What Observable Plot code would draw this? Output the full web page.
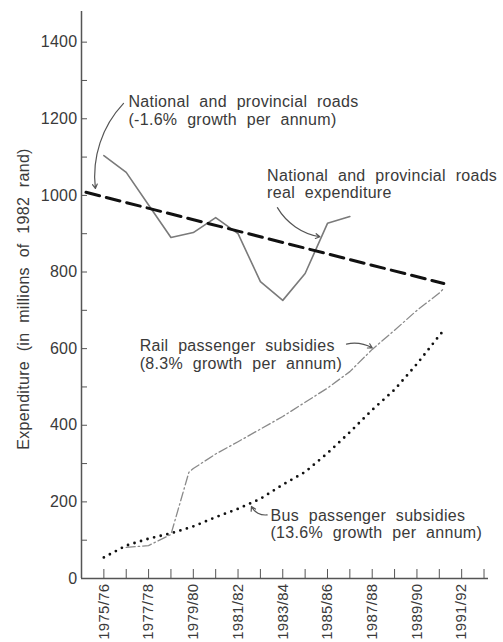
<!DOCTYPE html>
<html><head><meta charset="utf-8">
<script src="https://cdn.jsdelivr.net/npm/d3@7"></script>
<script src="https://cdn.jsdelivr.net/npm/@observablehq/plot@0.6"></script>
<style>
body{margin:0;background:#fff}
#chart svg{font-family:"Liberation Sans",Arial,sans-serif;}
</style>
</head><body><div id="chart"></div>
<script>
// Financial years: 1975 means 1975/76
const roadYears  = [1975,1976,1977,1978,1979,1980,1981,1982,1983,1984,1985,1986];
const roadValues = [1104,1060,975,890,903,942,900,775,726,796,927,945];

const trendYears  = [1974.2, 1990.2];
const trendValues = [1008, 770];

const railYears  = [1976,1977,1978,1978.8,1979,1980,1981,1982,1983,1984,1985,1986,1987,1988,1989,1990,1990.2];
const railValues = [81,86,115,277,287,325,357,390,423,460,497,540,598,648,700,745,757];

const busYears  = [1975,1976,1977,1978,1979,1980,1981,1982,1983,1984,1985,1986,1987,1988,1989,1990,1990.2];
const busValues = [55,86,104,118,136,160,182,208,245,278,327,382,440,493,560,634,648];

const yLabelTicks = [0,200,400,600,800,1000,1200,1400];
const yAllTicks = [0,100,200,300,400,500,600,700,800,900,1000,1100,1200,1300,1400];
const xLabelYears = [1975,1977,1979,1981,1983,1985,1987,1989,1991];
const xAllYears = [1975,1976,1977,1978,1979,1980,1981,1982,1983,1984,1985,1986,1987,1988,1989,1990,1991,1992];

const yTitle = "Expenditure (in millions of 1982 rand)";
const notes = [
  {x: 1976.1, y: 1262, text: "National and provincial roads\n(-1.6% growth per annum)"},
  {x: 1982.3, y: 1070, text: "National and provincial roads\nreal expenditure"},
  {x: 1976.6, y: 625,  text: "Rail passenger subsidies\n(8.3% growth per annum)"},
  {x: 1982.45, y: 183, text: "Bus passenger subsidies\n(13.6% growth per annum)"}
];
const arrowRoadsTrend = [{x1: 1975.88, y1: 1240, x2: 1974.62, y2: 1018}];
const arrowRoadsReal  = [{x1: 1982.76, y1: 968,  x2: 1984.66, y2: 892}];
const arrowRail       = [{x1: 1985.85, y1: 612,  x2: 1987.0,  y2: 602}];
const arrowBus        = [{x1: 1982.3,  y1: 166,  x2: 1981.6,  y2: 188}];

const fmt = y => `${y}/${String((y + 1) % 100).padStart(2, "0")}`;
const road = roadYears.map((x, i) => ({x, y: roadValues[i]}));
const trend = trendYears.map((x, i) => ({x, y: trendValues[i]}));
const rail = railYears.map((x, i) => ({x, y: railValues[i]}));
const bus = busYears.map((x, i) => ({x, y: busValues[i]}));

const ink = "#3a3a3a";
const arrowStyle = {x1: "x1", y1: "y1", x2: "x2", y2: "y2", stroke: "#555", strokeWidth: 1.2, headLength: 6};
const chart = Plot.plot({
  width: 503,
  height: 642,
  marginLeft: 81,
  marginRight: 15,
  marginTop: 11,
  marginBottom: 64,
  style: {fontFamily: "'Liberation Sans', Arial, sans-serif", color: ink, background: "#fff"},
  x: {domain: [1974, 1992.2], axis: null},
  y: {domain: [0, 1480], axis: null},
  marks: [
    Plot.axisY({ticks: yAllTicks, tickSize: 6, dx: 6, text: null, stroke: "#555"}),
    Plot.axisY({ticks: yLabelTicks, tickFormat: d => String(d), tickSize: 0, tickPadding: 4, fontSize: 16, fill: ink}),
    Plot.axisX({ticks: xAllYears, tickSize: 9, dy: -9, text: null, stroke: "#555"}),
    Plot.axisX({ticks: xLabelYears, tickFormat: fmt, tickRotate: -90, tickSize: 0, tickPadding: 5, fontSize: 15, fill: ink}),
    Plot.ruleY([0], {stroke: "#555", strokeWidth: 1.5}),
    Plot.ruleX([1974], {stroke: "#555", strokeWidth: 1.5}),
    Plot.text([yTitle], {frameAnchor: "left", textAnchor: "middle", rotate: -90, dx: -58, dy: 4, fontSize: 16, fill: ink,
      text: d => d}),
    Plot.line(road, {x: "x", y: "y", stroke: "#7a7a7a", strokeWidth: 1.6}),
    Plot.line(trend, {x: "x", y: "y", stroke: "#111", strokeWidth: 3, strokeDasharray: "14,7"}),
    Plot.line(rail, {x: "x", y: "y", stroke: "#8a8a8a", strokeWidth: 1.3, strokeDasharray: "9,3,1.5,3"}),
    Plot.line(bus, {x: "x", y: "y", stroke: "#111", strokeWidth: 2.8, strokeLinecap: "round", strokeDasharray: "0,6.8"}),
    Plot.arrow(arrowRoadsTrend, {...arrowStyle, bend: -25}),
    Plot.arrow(arrowRoadsReal, {...arrowStyle, bend: -25}),
    Plot.arrow(arrowRail, {...arrowStyle, bend: 20}),
    Plot.arrow(arrowBus, {...arrowStyle, bend: 35}),
    Plot.text(notes, {x: "x", y: "y", text: "text", textAnchor: "start", lineAnchor: "top", lineHeight: 1.08, fontSize: 16, fill: ink})
  ]
});
// wider letter/word spacing like the typeset original
d3.select(chart).selectAll("text").style("letter-spacing", "0.3px").style("word-spacing", "5px");
document.getElementById("chart").appendChild(chart);
</script>
</body></html>
